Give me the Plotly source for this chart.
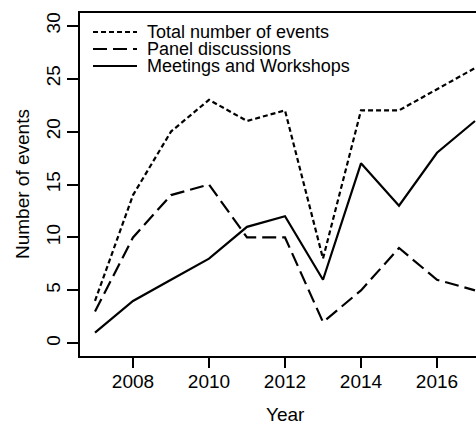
import plotly.graph_objects as go

years = [2007, 2008, 2009, 2010, 2011, 2012, 2013, 2014, 2015, 2016, 2017]
total_events = [4, 14, 20, 23, 21, 22, 8, 22, 22, 24, 26]
panel_discussions = [3, 10, 14, 15, 10, 10, 2, 5, 9, 6, 5]
meetings_workshops = [1, 4, 6, 8, 11, 12, 6, 17, 13, 18, 21]

series_names = ["Total number of events", "Panel discussions", "Meetings and Workshops"]
series_values = [total_events, panel_discussions, meetings_workshops]
series_dash = ["5px,3px", "14px,6px", "solid"]

x_ticks = [2008, 2010, 2012, 2014, 2016]
y_ticks = [0, 5, 10, 15, 20, 25, 30]

FONT = "Liberation Sans, Arial, Helvetica, sans-serif"
W, H = 476, 425
ML, MT, MB, MR = 80, 13, 69, 0
plot_w = W - ML - MR
plot_h = H - MT - MB

fig = go.Figure()
for name, vals, dash in zip(series_names, series_values, series_dash):
    fig.add_trace(go.Scatter(
        x=years, y=vals, mode="lines", name=name,
        line=dict(color="black", width=2.2, dash=dash),
        showlegend=False,
    ))


def px_to_paper_x(px):
    return (px - ML) / plot_w


def px_to_paper_y(py):
    return (H - MB - py) / plot_h


# legend drawn without a box, R-style
legend_rows = [32, 49, 66]
for name, dash, py in zip(series_names, series_dash, legend_rows):
    fig.add_shape(
        type="line", xref="paper", yref="paper",
        x0=px_to_paper_x(93), x1=px_to_paper_x(137),
        y0=px_to_paper_y(py), y1=px_to_paper_y(py),
        line=dict(color="black", width=2.2, dash=dash),
    )
    fig.add_annotation(
        text=name, xref="paper", yref="paper",
        x=px_to_paper_x(145), y=px_to_paper_y(py),
        xanchor="left", yanchor="middle", showarrow=False,
        font=dict(family=FONT, size=18, color="black"),
    )

# axis titles
fig.add_annotation(
    text="Year", xref="paper", yref="paper",
    x=px_to_paper_x(285), y=px_to_paper_y(414),
    xanchor="center", yanchor="middle", showarrow=False,
    font=dict(family=FONT, size=19, color="black"),
)
fig.add_annotation(
    text="Number of events", xref="paper", yref="paper",
    x=px_to_paper_x(23), y=px_to_paper_y(184),
    xanchor="center", yanchor="middle", showarrow=False, textangle=-90,
    font=dict(family=FONT, size=19, color="black"),
)

fig.update_layout(
    width=W, height=H,
    margin=dict(l=ML, r=MR, t=MT, b=MB, pad=0),
    paper_bgcolor="white", plot_bgcolor="white",
    font=dict(family=FONT, size=19, color="black"),
    xaxis=dict(
        range=[2007 - 15 / 38, 2007 + (plot_w - 15) / 38],
        tickvals=x_ticks, ticktext=[str(v) for v in x_ticks],
        ticks="outside", ticklen=10, tickwidth=1.5, tickcolor="black",
        ticklabelstandoff=-3,
        showline=True, linecolor="black", linewidth=2, mirror=True,
        showgrid=False, zeroline=False,
        tickfont=dict(family=FONT, size=19, color="black"),
    ),
    yaxis=dict(
        range=[-1.2, 31.2],
        tickvals=y_ticks, ticktext=[str(v) for v in y_ticks],
        ticks="outside", ticklen=11, tickwidth=1.5, tickcolor="black",
        tickangle=-90, ticklabelstandoff=-1,
        showline=True, linecolor="black", linewidth=2,
        showgrid=False, zeroline=False,
        tickfont=dict(family=FONT, size=19, color="black"),
    ),
)

fig.write_html("out.html")
